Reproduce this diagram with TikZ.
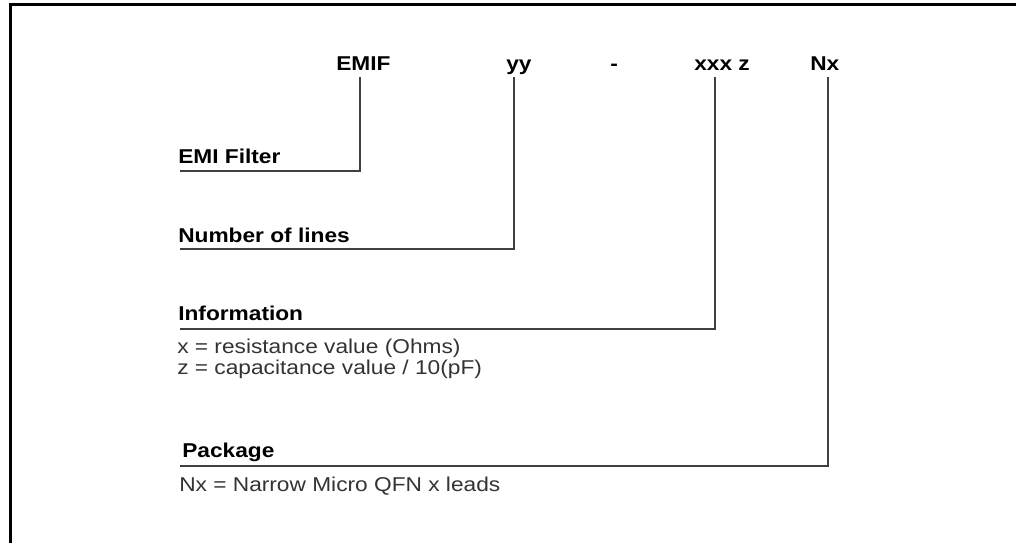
\documentclass[tikz,border=0pt]{standalone}
\usepackage{fontspec}
\setmainfont[FakeStretch=1.135]{Liberation Sans}
\usepackage{tikz}

\tikzset{
	field/.style={anchor=base west, inner sep=0pt, font=\fontsize{15}{17}\selectfont\bfseries},
	note/.style={anchor=base west, inner sep=0pt, font=\fontsize{15}{17}\selectfont, text=black!80},
	lead/.style={draw=black!75, line width=0.9pt}
}

\begin{document}
\begin{tikzpicture}[x=0.75pt, y=-0.75pt]
	\useasboundingbox (0,0) rectangle (1016,542);
	\clip (0,0) rectangle (1016,542);
	\draw[line width=1.6pt] (10.5,560) -- (10.5,4.5) -- (1030,4.5);
	
	% part number
	\node[field] (emif) at (336,70) {EMIF};
	\node[field] (yy) at (506,70) {yy};
	\node[field] (dash) at (610,70) {-};
	\node[field] (xxxz) at (694,70) {xxx z};
	\node[field] (nx) at (810,70) {Nx};
	
	\coordinate (emif-tap) at (360,77);
	\coordinate (yy-tap) at (514,77);
	\coordinate (xxx-tap) at (715,77);
	\coordinate (nx-tap) at (828,77);
	
	% fields
	\node[field] (filter) at (178,163) {EMI Filter};
	\coordinate (filter-end) at (180,171);
	\draw[lead] (filter-end) -| (emif-tap);
	
	\node[field] (lines) at (178,242) {Number of lines};
	\coordinate (lines-end) at (180,249);
	\draw[lead] (lines-end) -| (yy-tap);
	
	\node[field] (info) at (178,320) {Information};
	\coordinate (info-end) at (180,329);
	\draw[lead] (info-end) -| (xxx-tap);
	\node[note] (info-x) at (177,353) {x = resistance value (Ohms)};
	\node[note] (info-z) at (177,374) {z = capacitance value / 10(pF)};
	
	\node[field] (pkg) at (182,457) {Package};
	\coordinate (pkg-end) at (180,466);
	\draw[lead] (pkg-end) -| (nx-tap);
	\node[note] (pkg-nx) at (179,491) {Nx = Narrow Micro QFN x leads};
\end{tikzpicture}
\end{document}
